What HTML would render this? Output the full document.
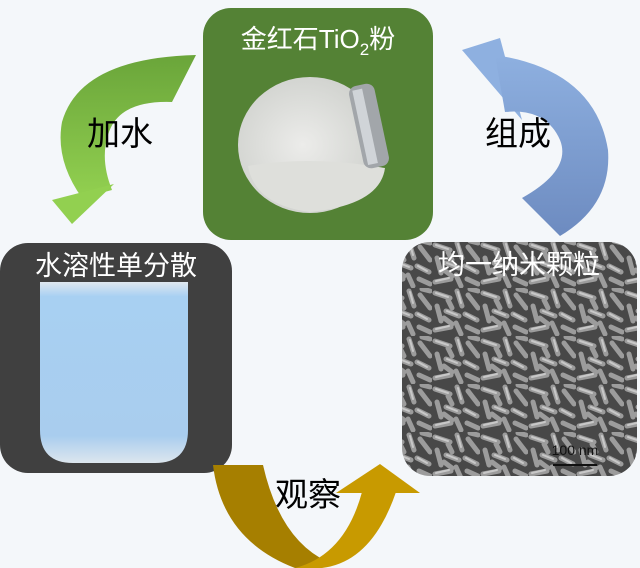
<!DOCTYPE html>
<html><head><meta charset="utf-8"><style>
html,body{margin:0;padding:0;background:#f4f7fa;width:640px;height:568px;overflow:hidden}
svg{display:block}
text{font-family:"Liberation Sans","Noto Sans CJK SC",sans-serif}
</style></head><body>
<svg width="640" height="568" viewBox="0 0 640 568" xmlns="http://www.w3.org/2000/svg">
<defs>
<linearGradient id="gg" x1="0" y1="0" x2="0" y2="1"><stop offset="0" stop-color="#6aa53a"/><stop offset="1" stop-color="#92d050"/></linearGradient>
<linearGradient id="bg" x1="0" y1="0" x2="0" y2="1"><stop offset="0" stop-color="#8eb0e0"/><stop offset="1" stop-color="#6d8bc0"/></linearGradient>
<linearGradient id="beak" x1="0" y1="0" x2="0" y2="1"><stop offset="0" stop-color="#e0e8f0"/><stop offset="0.08" stop-color="#a8d0f2"/><stop offset="0.85" stop-color="#a9cdee"/><stop offset="1" stop-color="#dde6ee"/></linearGradient>
<radialGradient id="bot" cx="0.45" cy="0.5" r="0.55"><stop offset="0" stop-color="#ececea"/><stop offset="1" stop-color="#d0d2ce"/></radialGradient>
<pattern id="rods" width="48" height="48" patternUnits="userSpaceOnUse">
<rect width="48" height="48" fill="#484848"/>
<g stroke="#9c9c9c" stroke-width="5" stroke-linecap="round">
<line x1="3" y1="5" x2="18" y2="10"/><line x1="25" y1="3" x2="30" y2="18"/><line x1="36" y1="7" x2="46" y2="20"/>
<line x1="5" y1="18" x2="9" y2="33"/><line x1="14" y1="23" x2="27" y2="28"/><line x1="33" y1="26" x2="45" y2="32"/>
<line x1="3" y1="42" x2="19" y2="39"/><line x1="24" y1="35" x2="29" y2="46"/><line x1="35" y1="39" x2="46" y2="44"/>
<line x1="16" y1="12" x2="20" y2="20"/><line x1="38" y1="1" x2="46" y2="3"/><line x1="12" y1="30" x2="20" y2="36"/>
</g>
<g stroke="#c8c8c8" stroke-width="2" stroke-linecap="round">
<line x1="4" y1="5" x2="16" y2="9"/><line x1="15" y1="23" x2="25" y2="27"/><line x1="4" y1="41" x2="17" y2="38"/><line x1="34" y1="26" x2="43" y2="31"/><line x1="26" y1="4" x2="29" y2="15"/>
</g>
</pattern>
</defs>

<!-- green box -->
<rect x="203" y="8" width="230" height="232" rx="28" fill="#548235"/>
<text x="318" y="48" font-size="26" fill="#fff" text-anchor="middle" font-family="Liberation Serif, Noto Serif CJK SC, serif">金红石TiO<tspan font-size="17" dy="7">2</tspan><tspan dy="-7">粉</tspan></text>
<ellipse cx="310" cy="145" rx="72" ry="68" fill="url(#bot)"/>
<path d="M248 166 Q310 155 385 168 Q380 205 310 212 Q255 205 248 166Z" fill="#dedfdb"/>
<rect x="356" y="84" width="26" height="84" rx="8" fill="#a2a6aa" transform="rotate(-12 369 126)"/>
<rect x="360" y="88" width="10" height="76" fill="#d0d4d8" transform="rotate(-12 369 126)"/>

<!-- left box -->
<rect x="0" y="243" width="232" height="230" rx="28" fill="#404040"/>
<text x="116" y="275" font-size="27" fill="#fff" text-anchor="middle">水溶性单分散</text>
<path d="M40 282 L188 282 L188 430 Q188 463 155 463 L73 463 Q40 463 40 430Z" fill="url(#beak)"/>

<!-- right box -->
<rect x="402" y="242" width="235" height="234" rx="28" fill="url(#rods)"/>
<text x="519" y="274" font-size="27" fill="#fff" text-anchor="middle">均一纳米颗粒</text>
<text x="575" y="455" font-size="14" fill="#111" text-anchor="middle" font-family="Liberation Serif, serif">100 nm</text>
<line x1="553" y1="465" x2="597" y2="465" stroke="#111" stroke-width="2"/>

<!-- green arrow -->
<path d="M196 55 L172 102 Q118 100 108 135 Q100 160 112 190 L82 198 Q55 160 62 122 Q80 58 196 55Z" fill="url(#gg)"/>
<polygon points="52,200 114,184 72,224" fill="#92d050"/>
<text x="120" y="145" font-size="33" fill="#000" text-anchor="middle">加水</text>

<!-- blue arrow -->
<polygon points="462,50 500,38 522,120" fill="#8eb0e0"/>
<path d="M495 55 Q595 70 608 150 Q612 205 560 236 L522 198 Q572 170 560 140 Q546 108 505 112Z" fill="url(#bg)"/>
<text x="518" y="145" font-size="33" fill="#000" text-anchor="middle">组成</text>

<!-- gold arrow -->
<path d="M213 465 L263 465 Q280 540 328 562 L312 568 L295 568 Q222 540 213 465Z" fill="#a67f00"/>
<path d="M295 568 Q345 555 362 492 L396 492 Q372 562 322 568Z" fill="#c89a00"/>
<polygon points="336,493 380,464 420,493" fill="#c89a00"/>
<text x="308" y="506" font-size="33" fill="#000" text-anchor="middle">观察</text>
</svg>
</body></html>
